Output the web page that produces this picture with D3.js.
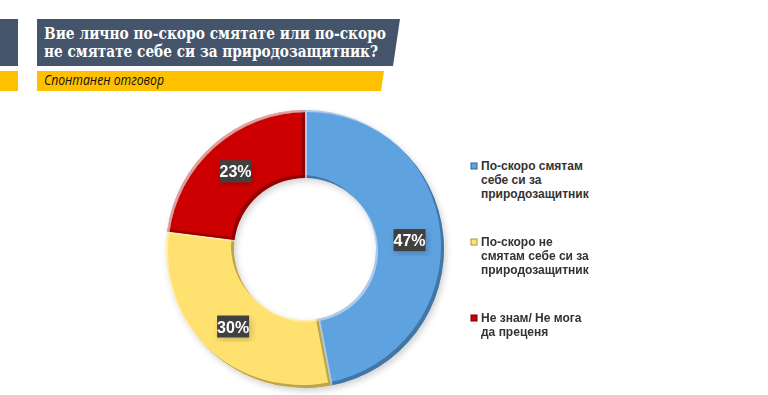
<!DOCTYPE html>
<html><head><meta charset="utf-8">
<script src="https://cdn.jsdelivr.net/npm/d3@7"></script>
<style>
html,body{margin:0;padding:0;background:#fff;}
svg{display:block;}
</style></head>
<body>
<svg id="chart" width="768" height="395"></svg>
<script>
const titleLines = ["Вие лично по-скоро смятате или по-скоро", "не смятате себе си за природозащитник?"];
const subtitle = "Спонтанен отговор";
const categories = ["По-скоро смятам себе си за природозащитник", "По-скоро не смятам себе си за природозащитник", "Не знам/ Не мога да преценя"];
const values = [47, 30, 23];
const legendLines = [["По-скоро смятам", "себе си за", "природозащитник"], ["По-скоро не", "смятам себе си за", "природозащитник"], ["Не знам/ Не мога", "да преценя"]];
const colors = ["#5FA2E0", "#FFE16F", "#CC0000"];
const edgeColors = ["#2F6596", "#B0903A", "#7A0000"];

const svg = d3.select("#chart");
const defs = svg.append("defs");

// bevel filter: darken bottom-right edges, lighten top-left
const f = defs.append("filter").attr("id","bevel").attr("x","-10%").attr("y","-10%").attr("width","120%").attr("height","120%");
f.append("feGaussianBlur").attr("in","SourceAlpha").attr("stdDeviation",0.7).attr("result","blur");
f.append("feOffset").attr("in","blur").attr("dx",-3.5).attr("dy",-3.5).attr("result","off");
f.append("feComposite").attr("in","SourceAlpha").attr("in2","off").attr("operator","out").attr("result","edge");
f.append("feFlood").attr("flood-color","#000").attr("flood-opacity",0.5).attr("result","fl");
f.append("feComposite").attr("in","fl").attr("in2","edge").attr("operator","in").attr("result","shadow");
f.append("feOffset").attr("in","blur").attr("dx",1.5).attr("dy",1.5).attr("result","off2");
f.append("feComposite").attr("in","SourceAlpha").attr("in2","off2").attr("operator","out").attr("result","edge2");
f.append("feFlood").attr("flood-color","#fff").attr("flood-opacity",0.35).attr("result","fl2");
f.append("feComposite").attr("in","fl2").attr("in2","edge2").attr("operator","in").attr("result","hl");
const m = f.append("feMerge");
m.append("feMergeNode").attr("in","SourceGraphic");
m.append("feMergeNode").attr("in","shadow");
m.append("feMergeNode").attr("in","hl");

const ds = defs.append("filter").attr("id","drop").attr("x","-20%").attr("y","-20%").attr("width","140%").attr("height","140%");
ds.append("feGaussianBlur").attr("in","SourceAlpha").attr("stdDeviation",3).attr("result","b");
ds.append("feOffset").attr("in","b").attr("dx",2).attr("dy",3).attr("result","o");
ds.append("feFlood").attr("flood-color","#000").attr("flood-opacity",0.18).attr("result","c");
ds.append("feComposite").attr("in","c").attr("in2","o").attr("operator","in").attr("result","s");
const m2 = ds.append("feMerge");
m2.append("feMergeNode").attr("in","s");
m2.append("feMergeNode").attr("in","SourceGraphic");

// Header
const hdr = svg.append("g");
hdr.append("rect").attr("x",0).attr("y",19).attr("width",18).attr("height",47).attr("fill","#44546A");
hdr.append("rect").attr("x",0).attr("y",71).attr("width",18).attr("height",20).attr("fill","#FFC000");
hdr.append("path").attr("d","M37,19 L400,19 L393,66 L37,66 Z").attr("fill","#44546A");
hdr.append("path").attr("d","M37,71 L384,71 L381,91 L37,91 Z").attr("fill","#FFC000");
hdr.selectAll("text.title").data(titleLines).join("text").attr("class","title")
  .attr("x",44).attr("y",(d,i)=>39+i*18)
  .attr("font-family","'DejaVu Serif', serif").attr("font-weight","bold").attr("font-size",16.5)
  .attr("fill","#fff")
  .attr("textLength",(d,i)=>i===0?342:334).attr("lengthAdjust","spacingAndGlyphs")
  .text(d=>d);
hdr.append("text").attr("x",44).attr("y",85).attr("font-family","'Open Sans', sans-serif")
  .attr("font-style","italic").attr("font-size",14).attr("fill","#111")
  .attr("textLength",120).attr("lengthAdjust","spacingAndGlyphs").text(subtitle);

// Donut
const cx = 305, cy = 249, rOut = 139, rIn = 71;
const pie = d3.pie().sort(null).value(d=>d);
const arcs = pie(values);
const arc = d3.arc().innerRadius(rIn).outerRadius(rOut);
const g = svg.append("g").attr("transform",`translate(${cx},${cy})`);
const dg = g.append("g").attr("filter","url(#drop)");
dg.selectAll("path").data(arcs).join("path")
  .attr("d",arc).attr("fill",(d,i)=>colors[i]).attr("filter","url(#bevel)");

// labels
const lab = g.selectAll("g.lab").data(arcs).join("g").attr("class","lab")
  .attr("transform",d=>{const c=arc.centroid(d); return `translate(${c[0]},${c[1]+2})`;});
lab.append("rect").attr("x",-16).attr("y",-12).attr("width",32).attr("height",22)
  .attr("fill","#404040").attr("filter","url(#drop)");
lab.append("text").attr("text-anchor","middle").attr("y",5)
  .attr("font-family","'Liberation Sans Narrow', 'Arial Narrow', sans-serif").attr("font-weight","bold")
  .attr("font-size",16).attr("fill","#fff").text(d=>d.value+"%");

// legend
const lg = svg.append("g");
const items = lg.selectAll("g").data(categories).join("g")
  .attr("transform",(d,i)=>`translate(471,${170+i*76})`);
items.append("rect").attr("x",0).attr("y",-7).attr("width",6).attr("height",6)
  .attr("fill",(d,i)=>colors[i]).attr("stroke",(d,i)=>edgeColors[i]).attr("stroke-width",1);
items.each(function(d,i){
  d3.select(this).selectAll("text").data(legendLines[i]).join("text")
    .attr("x",10).attr("y",(t,j)=>j*14)
    .attr("font-family","'Liberation Sans', Arial, sans-serif").attr("font-weight","bold")
    .attr("font-size",12).attr("fill","#333").text(t=>t);
});
</script>
</body></html>
